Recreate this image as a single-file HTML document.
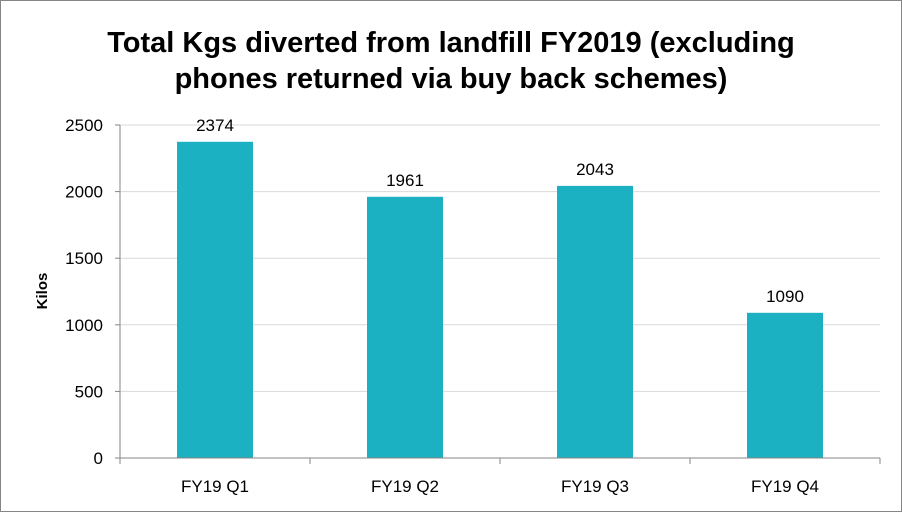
<!DOCTYPE html>
<html><head><meta charset="utf-8"><style>
body{margin:0;background:#fff}
svg{display:block;font-family:"Liberation Sans",Calibri,sans-serif}
</style></head><body>
<svg width="902" height="512">
<rect x="0.5" y="0.5" width="901" height="511" fill="#fff" stroke="#868686"/>
<text x="451" y="52" text-anchor="middle" font-size="29" font-weight="bold" fill="#000">Total Kgs diverted from landfill FY2019 (excluding</text>
<text x="451" y="88" text-anchor="middle" font-size="29" font-weight="bold" fill="#000">phones returned via buy back schemes)</text>
<text transform="translate(47,291) rotate(-90)" text-anchor="middle" font-size="15" font-weight="bold">Kilos</text>
<g id="grid"></g><g id="bars"></g><g id="axes"></g>
</svg>
<script>
const categories=["FY19 Q1","FY19 Q2","FY19 Q3","FY19 Q4"];
const values=[2374,1961,2043,1090];
const yTicks=[0,500,1000,1500,2000,2500];
const ns="http://www.w3.org/2000/svg";
const L=120,R=880,T=125,B=458,yMax=2500;
const y=v=>B-(v/yMax)*(B-T);
const bw=(R-L)/categories.length;
const x=i=>L+bw*i+bw/2;
function mk(t,a,p){const e=document.createElementNS(ns,t);for(const k in a)e.setAttribute(k,a[k]);p.appendChild(e);return e;}
const g=document.getElementById('grid'),bg=document.getElementById('bars'),ax=document.getElementById('axes');
yTicks.forEach(v=>{
 if(v>0){const l=mk('line',{x1:L,x2:R,y1:y(v),y2:y(v),stroke:'#d9d9d9'},g);
 
 }
 const tk=mk('line',{x1:L-5,x2:L,y1:y(v),y2:y(v),stroke:'#868686'},ax);
 
 
 const t=mk('text',{x:L-17,y:y(v)+6,'text-anchor':'end','font-size':'17',fill:'#000'},ax);
 t.textContent=v;
 
 
});
values.forEach((v,i)=>{
 const w=76;
 const r=mk('rect',{x:x(i)-w/2,y:y(v),width:w,height:B-y(v),fill:'#1BB0C2'},bg);
 
 
 const t=mk('text',{x:x(i),y:y(v)-11,'text-anchor':'middle','font-size':'17'},bg);
 t.textContent=v;
 
 
 const c=mk('text',{x:x(i),y:B+34,'text-anchor':'middle','font-size':'17'},ax);
 c.textContent=categories[i];
 
 
});
for(let i=0;i<=categories.length;i++){
 const tk=mk('line',{x1:L+bw*i,x2:L+bw*i,y1:B,y2:B+6,stroke:'#868686'},ax);
 
 
}
const ya=mk('line',{x1:L,x2:L,y1:T,y2:B,stroke:'#868686'},ax);


const xa=mk('line',{x1:L,x2:R,y1:B,y2:B,stroke:'#868686'},ax);


</script>
</body></html>
